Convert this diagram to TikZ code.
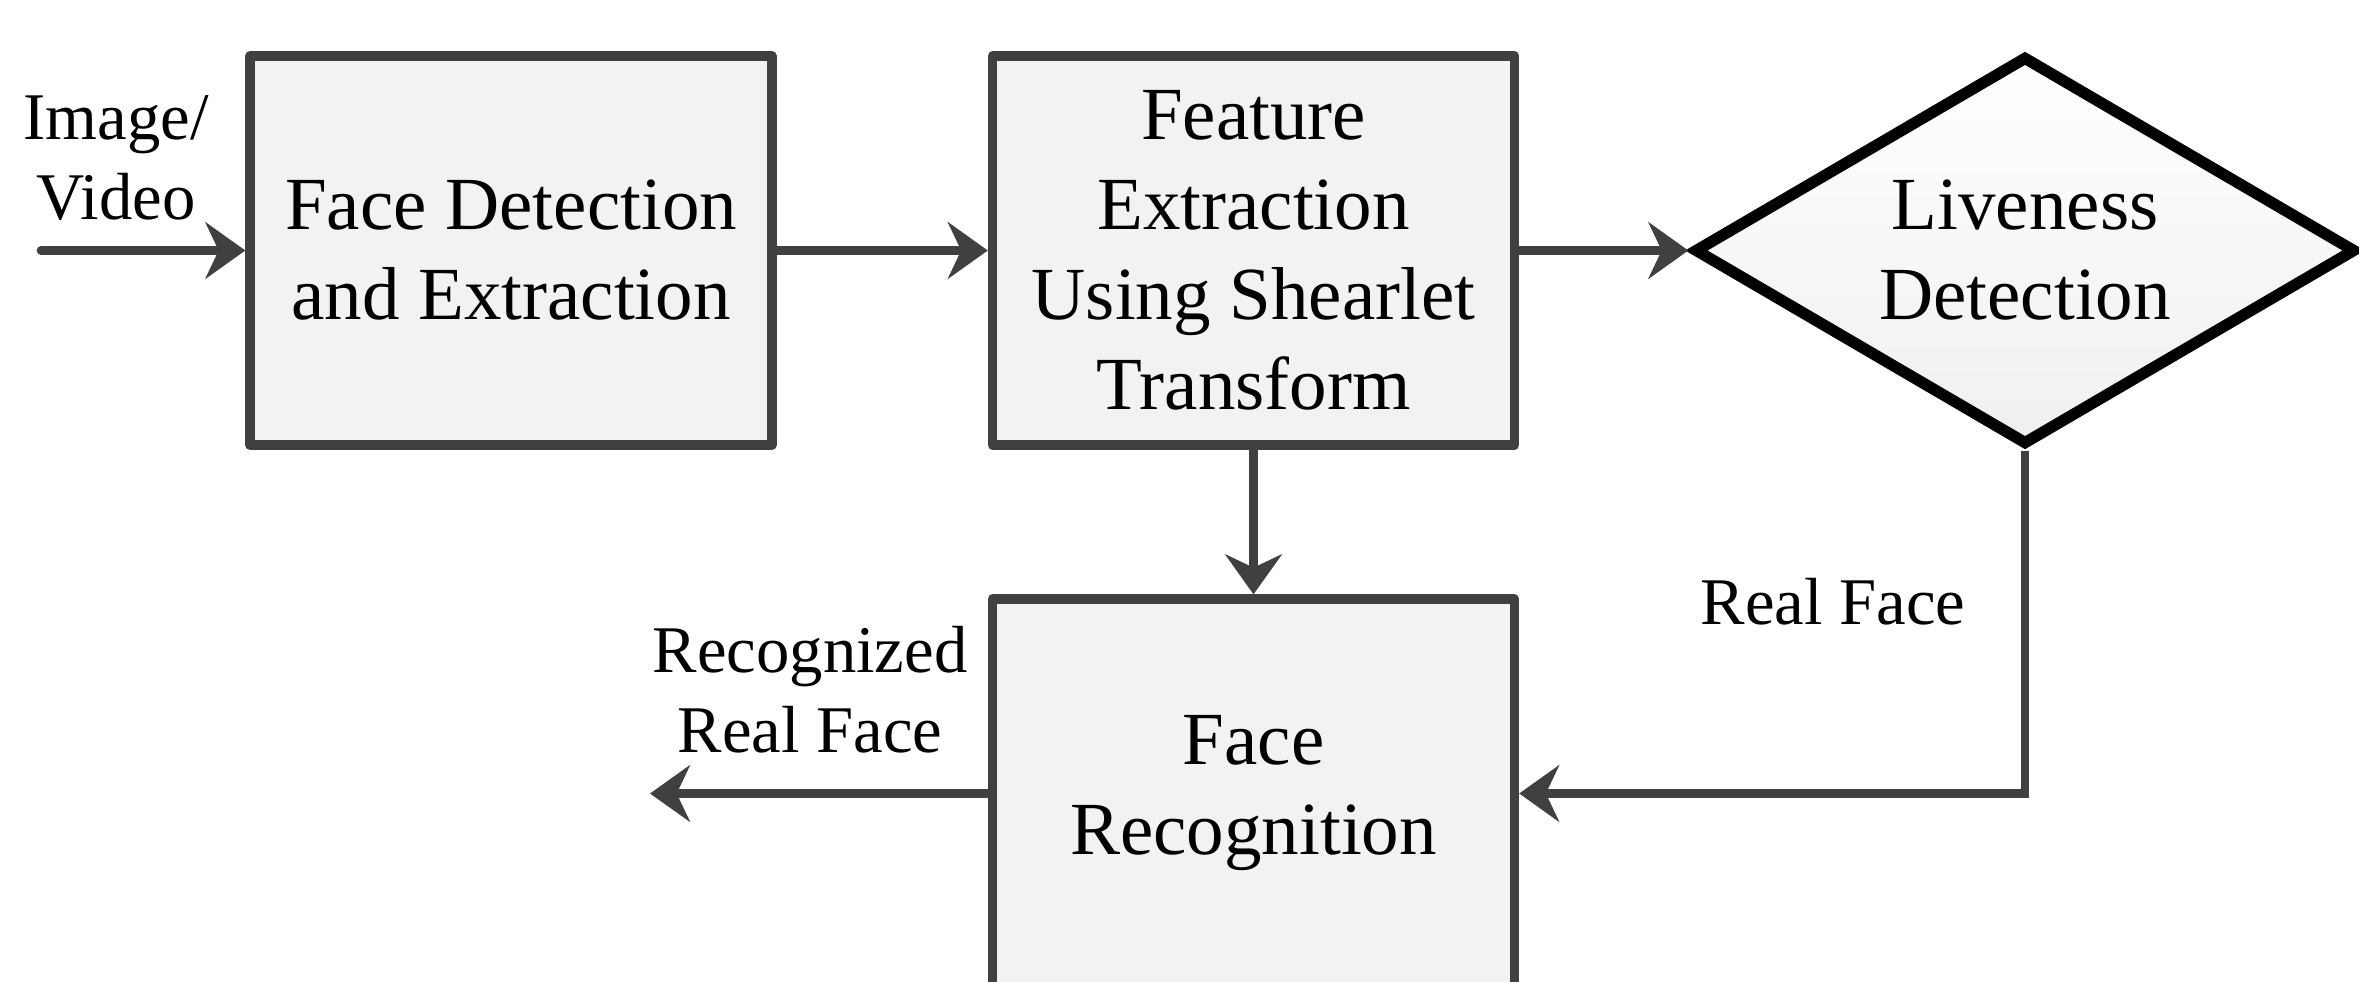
\documentclass[tikz,border=0pt]{standalone}
\usepackage{fontspec}
\setmainfont{Liberation Serif}
\usetikzlibrary{shapes.geometric,arrows.meta}
\definecolor{lineg}{HTML}{404040}
\definecolor{boxfill}{HTML}{F2F2F2}
\tikzset{
  procbox/.style={draw=lineg, line width=2.8pt, fill=boxfill, line join=round,
    minimum width=156.6pt, minimum height=116.7pt, inner sep=0pt, align=center,
    font=\fontsize{22.5}{27}\selectfont},
  decbox/.style={diamond, draw=black, line width=3.4pt, top color=white, bottom color=gray!12,
    aspect=1.7, minimum width=198.6pt, minimum height=116.7pt, inner sep=0pt, align=center,
    font=\fontsize{22.5}{27}\selectfont},
  lbl/.style={align=center, inner sep=0pt, font=\fontsize{20}{24}\selectfont},
  conn/.style={draw=lineg, line width=2.6pt, line cap=round,
    -{Stealth[length=12pt,width=17pt,inset=4pt]}},
}
\begin{document}
\begin{tikzpicture}[x=0.3pt,y=-0.3pt]
\useasboundingbox (0,0) rectangle (2359,982);
\node[procbox] (fd) at (511,250.5) {Face Detection\\and Extraction};
\node[procbox] (fe) at (1253.5,250.5) {Feature\\Extraction\\Using Shearlet\\Transform};
\node[decbox] (ld) at (2025,250.5) {Liveness\\Detection};
\node[procbox] (fr) at (1253.5,793.5) {Face\\Recognition};
\coordinate (in) at (41,250.5);
\coordinate (out) at (650,793.5);
\node[lbl] (iv) at (116,158) {Image/\\Video};
\node[lbl] (rr) at (810,690) {Recognized\\Real Face};
\node[lbl] (rf) at (1833,602) {Real Face};
\draw[conn] (in) -- (fd.west);
\draw[conn] (fd.east) -- (fe.west);
\draw[conn] (fe.east) -- (ld.west);
\draw[conn] (fe.south) -- (fr.north);
\draw[conn, line cap=butt] (ld.south) |- (fr.east);
\draw[conn] (fr.west) -- (out);
\end{tikzpicture}
\end{document}
